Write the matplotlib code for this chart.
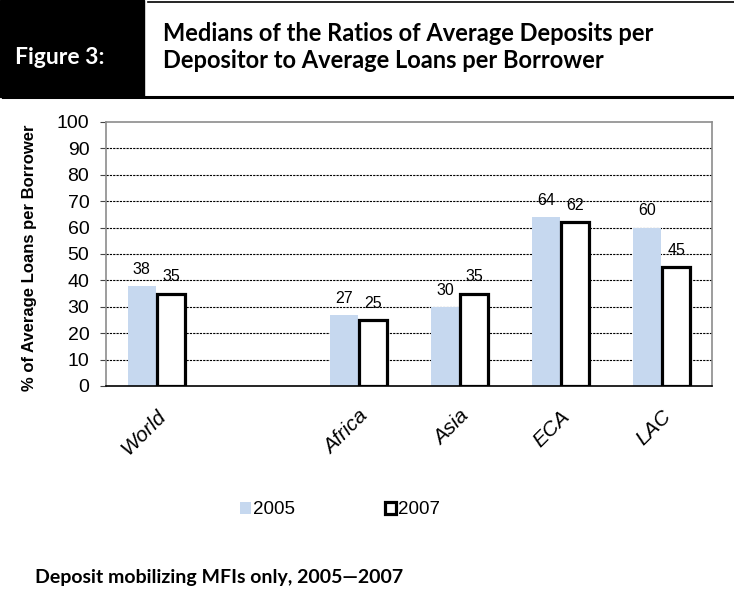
import numpy as np
import matplotlib
matplotlib.use("Agg")
import matplotlib.pyplot as plt
from matplotlib.patches import Rectangle

# chart data (blank slot between World and the regions, as in the source)
categories = ["World", "", "Africa", "Asia", "ECA", "LAC"]
vals_2005 = [38, np.nan, 27, 30, 64, 60]
vals_2007 = [35, np.nan, 25, 35, 62, 45]
series_names = ["2005", "2007"]
yticks = [0, 10, 20, 30, 40, 50, 60, 70, 80, 90, 100]

title = "Medians of the Ratios of Average Deposits per\nDepositor to Average Loans per Borrower"
fig_label = "Figure 3:"
ylabel = "% of Average Loans per Borrower"
footnote = "Deposit mobilizing MFIs only, 2005\u20142007"

light_blue = "#C6D8EF"
arial = "Liberation Sans"
calibri = "Lato"

fig = plt.figure(figsize=(7.34, 5.92), dpi=100)

# header: black box + title + thick rule underneath
fig.patches.append(Rectangle((0.004, 592 - 97), 144, 97, transform=None, color="black"))
fig.add_artist(plt.Line2D([148 / 734, 1], [1 - 2 / 592, 1 - 2 / 592], color="black", lw=1.2))
fig.add_artist(plt.Line2D([0.004, 1], [1 - 97 / 592, 1 - 97 / 592], color="black", lw=2.2))
fig.text(15 / 734, 1 - 58 / 592, fig_label, color="white", fontsize=16.5, fontweight="bold",
         family=calibri, va="center", ha="left")
fig.text(163 / 734, 1 - 47 / 592, title, color="black", fontsize=17, fontweight="bold",
         family=calibri, va="center", ha="left", linespacing=1.2)

ax = fig.add_axes([106 / 734, 1 - 386 / 592, (712 - 106) / 734, (386 - 122) / 592])

x = np.arange(len(categories))
w = 0.28
off = 0.145
b1 = ax.bar(x - off, vals_2005, w, color=light_blue, label=series_names[0], zorder=3)
b2 = ax.bar(x + off, vals_2007, w, facecolor="white", edgecolor="black", linewidth=2.3,
            label=series_names[1], zorder=3)

for bars, vals in ((b1, vals_2005), (b2, vals_2007)):
    for rect, v in zip(bars, vals):
        if np.isnan(v):
            continue
        ax.annotate(f"{v:.0f}", (rect.get_x() + rect.get_width() / 2, v),
                    xytext=(0, 12), textcoords="offset points", ha="center", va="center",
                    fontsize=11.5, family=arial, zorder=4)

ax.set_xlim(-0.5, len(categories) - 0.5)
ax.set_ylim(0, 100)
ax.set_yticks(yticks)
ax.set_yticklabels([str(t) for t in yticks], fontsize=14, family=arial)
ax.set_xticks(x)
ax.set_xticklabels(categories, rotation=45, ha="right", rotation_mode="anchor",
                   fontsize=15, family=arial, style="italic")
ax.tick_params(axis="x", length=0, pad=15)
ax.tick_params(axis="y", length=4, pad=8, color="#444444")

for t in yticks[1:-1]:
    ax.axhline(t, color="black", lw=0.8, ls=(0, (2, 1)), zorder=1)

for s in ("top", "right", "left"):
    ax.spines[s].set_color("#8c8c8c")
    ax.spines[s].set_linewidth(1.2)
ax.spines["bottom"].set_color("black")
ax.spines["bottom"].set_linewidth(1.2)
ax.spines["bottom"].set_zorder(5)

fig.text(30 / 734, 1 - 258 / 592, ylabel, rotation=90, fontsize=12, fontweight="bold",
         family=arial, ha="center", va="center")

leg = fig.legend(handles=[b1, b2], labels=series_names, loc="center",
                 bbox_to_anchor=(340 / 734, 1 - 510 / 592), ncol=2, frameon=False,
                 prop={"family": arial, "size": 13.5}, handlelength=0.6, handleheight=0.6,
                 handletextpad=0.1, columnspacing=4.8)

fig.text(35 / 734, 1 - 577 / 592, footnote, fontsize=14, fontweight="bold",
         family=calibri, ha="left", va="center")

fig.savefig("out.png", dpi=100)
